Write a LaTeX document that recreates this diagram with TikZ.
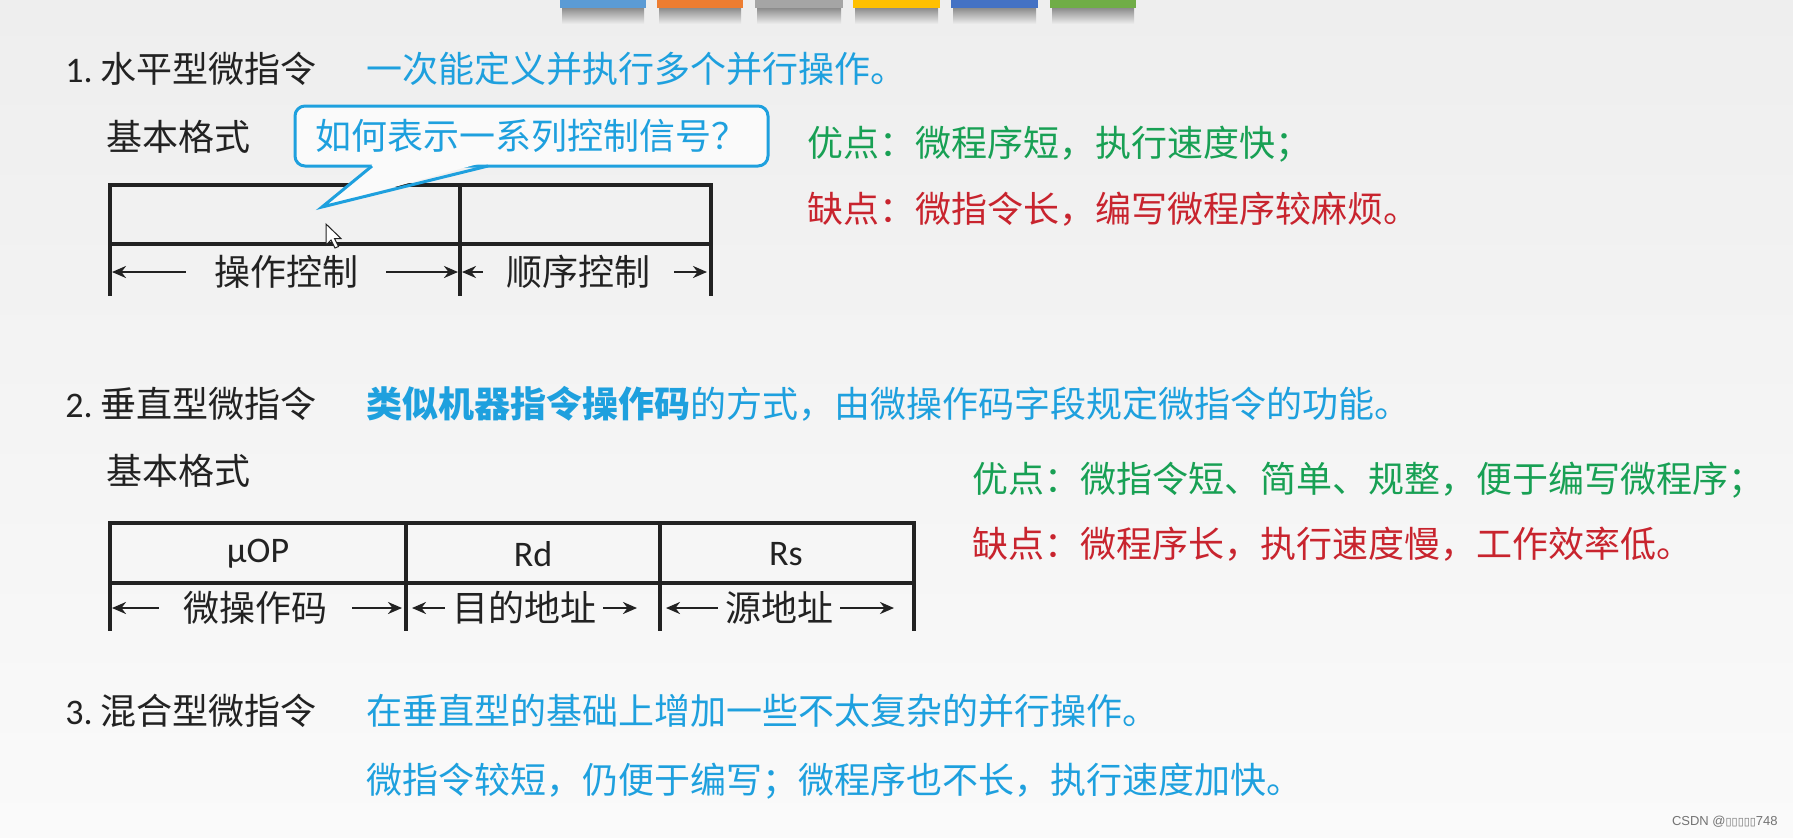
\documentclass[tikz,border=0pt]{standalone}
\usepackage{fontspec}
\usepackage{tikz}
\usetikzlibrary{arrows.meta}

\setmainfont{Carlito}
\newfontfamily\cjk{Noto Sans CJK SC}
\newfontfamily\wmfont{Liberation Sans}
\newfontfamily\symfont{DejaVu Sans}

\definecolor{ink}{RGB}{34,34,34}
\definecolor{noteblue}{RGB}{30,160,222}
\definecolor{progreen}{RGB}{24,160,84}
\definecolor{conred}{RGB}{200,36,46}
\definecolor{bgtop}{RGB}{238,238,238}
\definecolor{bgbot}{RGB}{250,250,250}
\definecolor{tabA}{RGB}{91,155,213}
\definecolor{tabB}{RGB}{237,125,49}
\definecolor{tabC}{RGB}{165,165,165}
\definecolor{tabD}{RGB}{255,192,0}
\definecolor{tabE}{RGB}{68,114,196}
\definecolor{tabF}{RGB}{112,173,71}

\begin{document}
\begin{tikzpicture}[x=0.5pt, y=-0.5pt, >={Stealth[length=7pt, width=6pt]}]
% --- Global Styles ---
\tikzstyle{txt} = [font=\cjk\fontsize{18}{21}\selectfont, inner sep=0pt, anchor=west, text=ink]
\tikzstyle{note} = [txt, text=noteblue]
\tikzstyle{pro} = [txt, text=progreen]
\tikzstyle{con} = [txt, text=conred]
\tikzstyle{frame} = [line width=1.6pt, line cap=rect, draw=ink]
\tikzstyle{span} = [->, line width=1.2pt, draw=ink]
\tikzstyle{dimlbl} = [font=\cjk\fontsize{18}{21}\selectfont, inner ysep=0pt, text=ink]
\tikzstyle{cell} = [font=\fontsize{18}{21}\selectfont, inner sep=0pt, text=ink]
\tikzstyle{shadow} = [top color=black!45, bottom color=bgtop]

% --- Table Coordinates ---
\def\xt{110}   % left edge of both tables
\def\ya{185}   % table 1 top
\def\yb{244}   % table 1 middle
\def\yc{294}   % table 1 bottom of bars
\def\yd{523}   % table 2 top
\def\ye{583}   % table 2 middle
\def\yf{629}   % table 2 bottom of bars

\useasboundingbox (0,0) rectangle (1793,837);
\shade[top color=bgtop, bottom color=bgbot] (0,0) rectangle (1793,837);

% ==========================================
% TOP: coloured tabs
% ==========================================
\shade[shadow] (562,8) rectangle (644,24);
\shade[shadow] (659,8) rectangle (741,24);
\shade[shadow] (757,8) rectangle (841,24);
\shade[shadow] (855,8) rectangle (938,24);
\shade[shadow] (953,8) rectangle (1036,24);
\shade[shadow] (1052,8) rectangle (1134,24);
\fill[tabA] (560,0) rectangle (646,8);
\fill[tabB] (657,0) rectangle (743,8);
\fill[tabC] (755,0) rectangle (843,8);
\fill[tabD] (853,0) rectangle (940,8);
\fill[tabE] (951,0) rectangle (1038,8);
\fill[tabF] (1050,0) rectangle (1136,8);

% ==========================================
% 1. Horizontal microinstruction
% ==========================================
\node[txt] (h1) at (65,69) {{\rmfamily 1.}\hspace{4pt}水平型微指令};
\node[note] (d1) at (366,69) {一次能定义并执行多个并行操作。};
\node[txt] (fmt1) at (106,137) {基本格式};

% Field frame
\draw[frame] (\xt,\ya) -- (711,\ya);
\draw[frame] (\xt,\yb) -- (711,\yb);
\draw[frame] (\xt,\ya) -- (\xt,\yc);
\draw[frame] (460,\ya) -- (460,\yc);
\draw[frame] (711,\ya) -- (711,\yc);

% Width arrows & labels
\node[dimlbl, inner xsep=14pt] (opctl) at (286,272) {操作控制};
\node[dimlbl, inner xsep=11.75pt] (seqctl) at (578.5,272) {顺序控制};
\coordinate (opL) at (112,272);
\coordinate (opR) at (458,272);
\coordinate (seqL) at (462,272);
\coordinate (seqR) at (707,272);
\draw[span] (opctl.west) -- (opL);
\draw[span] (opctl.east) -- (opR);
\draw[span] (seqctl.west) -- (seqL);
\draw[span] (seqctl.east) -- (seqR);

% Speech bubble
\node[draw=noteblue, line width=1.5pt, fill=bgbot, rounded corners=5pt,
      minimum width=236.5pt, minimum height=30pt, inner sep=0pt,
      font=\cjk\fontsize{18}{21}\selectfont, text=noteblue] (ask) at (531.5,136) {如何表示一系列控制信号？};
\coordinate (tipL) at (372,166);
\coordinate (tipR) at (488,166);
\coordinate (tip) at (322,207);
\fill[bgbot] (375,162) -- (tip) -- (485,162) -- cycle;
\draw[noteblue, line width=1.5pt] (tipL) -- (tip) -- (tipR);

% Mouse pointer
\draw[fill=white, draw=ink, line width=0.5pt] (326,224) -- (326,245) -- (331,240) -- (335,248)
  -- (338.5,246.5) -- (334.5,238.5) -- (341,238.5) -- cycle;

% Pros and cons
\node[pro] (pro1) at (807,144) {优点：微程序短，执行速度快；};
\node[con] (con1) at (807,209) {缺点：微指令长，编写微程序较麻烦。};

% ==========================================
% 2. Vertical microinstruction
% ==========================================
\node[txt] (h2) at (65,404) {{\rmfamily 2.}\hspace{4pt}垂直型微指令};
\node[note] (d2) at (366,404) {{\bfseries 类似机器指令操作码}的方式，由微操作码字段规定微指令的功能。};
\node[txt] (fmt2) at (106,471) {基本格式};

% Field frame
\draw[frame] (\xt,\yd) -- (914,\yd);
\draw[frame] (\xt,\ye) -- (914,\ye);
\draw[frame] (\xt,\yd) -- (\xt,\yf);
\draw[frame] (406,\yd) -- (406,\yf);
\draw[frame] (660,\yd) -- (660,\yf);
\draw[frame] (914,\yd) -- (914,\yf);

% Field names
\node[cell] (uop) at (258,554) {μOP};
\node[cell] (rd) at (533,554) {Rd};
\node[cell] (rs) at (786,554) {Rs};

% Width arrows & labels
\node[dimlbl, inner xsep=12.25pt] (mopc) at (255.5,608) {微操作码};
\node[dimlbl, inner xsep=3.5pt] (dst) at (524,608) {目的地址};
\node[dimlbl, inner xsep=3.5pt] (src) at (779,608) {源地址};
\coordinate (mopL) at (112,608);
\coordinate (mopR) at (402,608);
\coordinate (dstL) at (412,608);
\coordinate (dstR) at (637,608);
\coordinate (srcL) at (666,608);
\coordinate (srcR) at (894,608);
\draw[span] (mopc.west) -- (mopL);
\draw[span] (mopc.east) -- (mopR);
\draw[span] (dst.west) -- (dstL);
\draw[span] (dst.east) -- (dstR);
\draw[span] (src.west) -- (srcL);
\draw[span] (src.east) -- (srcR);

% Pros and cons
\node[pro] (pro2) at (972,480) {优点：微指令短、简单、规整，便于编写微程序；};
\node[con] (con2) at (972,544) {缺点：微程序长，执行速度慢，工作效率低。};

% ==========================================
% 3. Hybrid microinstruction
% ==========================================
\node[txt] (h3) at (65,711) {{\rmfamily 3.}\hspace{4pt}混合型微指令};
\node[note] (d3a) at (366,711) {在垂直型的基础上增加一些不太复杂的并行操作。};
\node[note] (d3b) at (366,781) {微指令较短，仍便于编写；微程序也不长，执行速度加快。};

% Watermark
\node[anchor=east, inner sep=0pt, text=black!55, font=\wmfont\fontsize{6.5}{8}\selectfont] (wm) at (1778,822)
  {CSDN @{\symfont\fontsize{5.5}{8}\selectfont ▯▯▯▯▯}748};

\end{tikzpicture}
\end{document}
